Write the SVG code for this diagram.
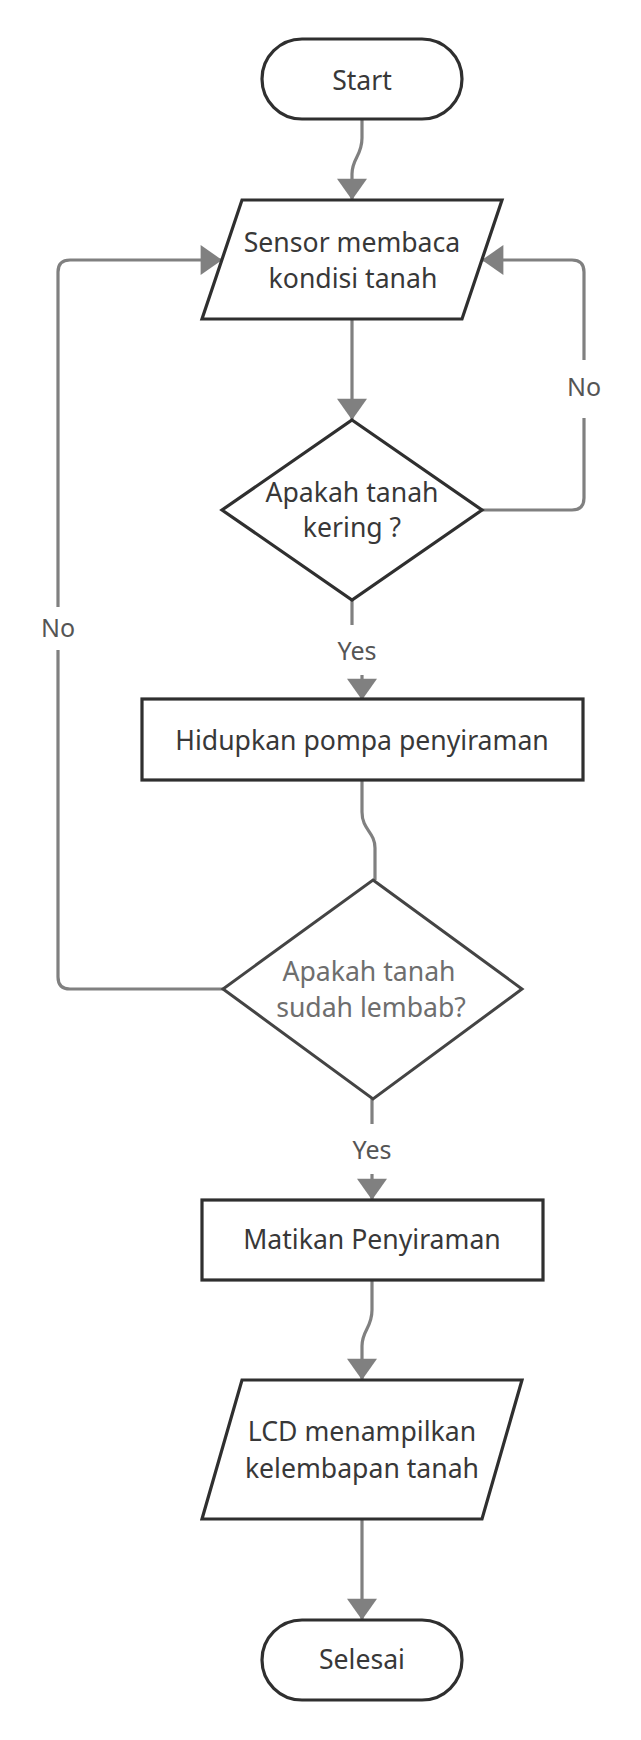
<svg xmlns="http://www.w3.org/2000/svg" width="641" height="1740" viewBox="0 0 641 1740">
<defs>
<style>
.node{fill:#ffffff;stroke:#2f2f2f;stroke-width:3.2;stroke-linejoin:miter}
.node2{fill:#ffffff;stroke:#444444;stroke-width:3}
.t{font-family:"Noto Sans","Open Sans","DejaVu Sans",sans-serif;font-size:26.6px;fill:#383838;text-anchor:middle}
.tg{fill:#6e6e6e}
.conn{fill:none;stroke:#808080;stroke-width:3.2}
.lbl{font-family:"Noto Sans","Open Sans","DejaVu Sans",sans-serif;font-size:25px;fill:#555555;text-anchor:middle}
</style>
<marker id="arr" markerUnits="userSpaceOnUse" markerWidth="30" markerHeight="30" viewBox="0 0 20 28" refX="19" refY="14" orient="auto">
<path d="M0,0 L20,14 L0,28 Z" fill="#808080"/>
</marker>
</defs>
<rect width="641" height="1740" fill="#ffffff"/>
<g id="connectors">
<path class="conn" d="M362,120 L362,138 C362,156 352,158 352,174 L352,199" marker-end="url(#arr)"/>
<path class="conn" d="M352,319 L352,419" marker-end="url(#arr)"/>
<path class="conn" d="M482,510 L572,510 Q584,510 584,498 L584,418 M584,360 L584,272 Q584,260 572,260 L483,260" marker-end="url(#arr)"/>
<path class="conn" d="M352,600 L352,625"/>
<path class="conn" d="M362,675 L362,699" marker-end="url(#arr)"/>
<path class="conn" d="M362,780 L362,812 C362,830 375,832 375,848 L375,880"/>
<path class="conn" d="M223,989 L70,989 Q58,989 58,977 L58,650 M58,607 L58,272 Q58,260 70,260 L221,260" marker-end="url(#arr)"/>
<path class="conn" d="M372,1099 L372,1124"/>
<path class="conn" d="M372,1174 L372,1199" marker-end="url(#arr)"/>
<path class="conn" d="M372,1280 L372,1310 C372,1328 362,1330 362,1346 L362,1379" marker-end="url(#arr)"/>
<path class="conn" d="M362,1519 L362,1619" marker-end="url(#arr)"/>
</g>
<g id="label-no-right"><text class="lbl" x="584" y="396">No</text></g>
<g id="label-no-left"><text class="lbl" x="58" y="637">No</text></g>
<g id="label-yes-1"><text class="lbl" x="357" y="660">Yes</text></g>
<g id="label-yes-2"><text class="lbl" x="372" y="1159">Yes</text></g>
<g id="start">
<rect class="node" x="262" y="39" width="200" height="80" rx="40" ry="40"/>
<text class="t" x="362" y="90">Start</text>
</g>
<g id="sensor">
<polygon class="node" points="242,200 502,200 462,319 202,319"/>
<text class="t" x="352" y="252">Sensor membaca</text>
<text class="t" x="353" y="288">kondisi tanah</text>
</g>
<g id="decision-kering">
<polygon class="node" points="352,420 482,510 352,600 222,510"/>
<text class="t" x="352" y="502">Apakah tanah</text>
<text class="t" x="352" y="537">kering ?</text>
</g>
<g id="pompa">
<rect class="node" x="142" y="699" width="441" height="81"/>
<text class="t" x="362" y="750">Hidupkan pompa penyiraman</text>
</g>
<g id="decision-lembab">
<polygon class="node2" points="373,880 522,989 373,1099 223,989"/>
<text class="t tg" x="369" y="981">Apakah tanah</text>
<text class="t tg" x="371" y="1017">sudah lembab?</text>
</g>
<g id="matikan">
<rect class="node" x="202" y="1200" width="341" height="80"/>
<text class="t" x="372" y="1249">Matikan Penyiraman</text>
</g>
<g id="lcd">
<polygon class="node" points="242,1380 522,1380 482,1519 202,1519"/>
<text class="t" x="362" y="1441">LCD menampilkan</text>
<text class="t" x="362" y="1478">kelembapan tanah</text>
</g>
<g id="selesai">
<rect class="node" x="262" y="1620" width="200" height="80" rx="40" ry="40"/>
<text class="t" x="362" y="1669">Selesai</text>
</g>
</svg>
